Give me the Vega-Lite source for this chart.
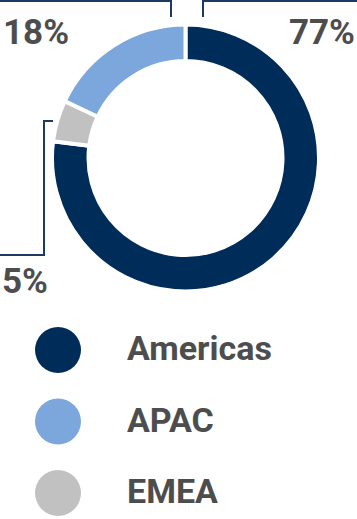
{
  "$schema": "https://vega.github.io/schema/vega-lite/v6.json",
  "width": 357,
  "height": 519,
  "autosize": {"type": "none"},
  "padding": 0,
  "background": "white",
  "config": {"view": {"stroke": null}, "axis": {"disable": true}, "font": "Roboto"},
  "data": {"values": [
    {"region": "Americas", "share": 77},
    {"region": "EMEA", "share": 5},
    {"region": "APAC", "share": 18}
  ]},
  "transform": [{"calculate": "datum.share + '%'", "as": "label"}],
  "layer": [
    {
      "transform": [{"window": [{"op": "row_number", "as": "idx"}]}],
      "mark": {"type": "arc", "outerRadius": 133.5, "innerRadius": 97, "stroke": "white", "strokeWidth": 4},
      "encoding": {
        "x": {"datum": 185.5, "type": "quantitative", "scale": {"domain": [0, 357], "nice": false, "zero": false}},
        "y": {"datum": 158, "type": "quantitative", "scale": {"domain": [0, 519], "reverse": true, "nice": false, "zero": false}},
        "theta": {"field": "share", "type": "quantitative", "stack": true},
        "order": {"field": "idx", "type": "quantitative"},
        "color": {
          "field": "region", "type": "nominal",
          "scale": {"domain": ["Americas", "APAC", "EMEA"], "range": ["#002c5a", "#7ba7dc", "#c1c1c1"]},
          "legend": {
            "orient": "none", "legendX": 35, "legendY": 327, "title": null, "padding": 0,
            "symbolType": "circle", "symbolSize": 2116, "symbolStrokeWidth": 0, "symbolOpacity": 1,
            "labelFont": "Roboto", "labelFontSize": 34, "labelFontWeight": "bold", "labelColor": "#4d4d4d",
            "labelOffset": 46, "rowPadding": 25.5, "labelLimit": 300
          }
        }
      }
    },
    {
      "transform": [{"filter": "datum.region === 'APAC'"}],
      "mark": {"type": "text", "align": "left", "baseline": "alphabetic", "fontSize": 35, "fontWeight": "bold", "color": "#4d4d4d"},
      "encoding": {
        "x": {"datum": 3, "type": "quantitative"},
        "y": {"datum": 44, "type": "quantitative"},
        "text": {"field": "label", "type": "nominal"}
      }
    },
    {
      "transform": [{"filter": "datum.region === 'Americas'"}],
      "mark": {"type": "text", "align": "right", "baseline": "alphabetic", "fontSize": 35, "fontWeight": "bold", "color": "#4d4d4d"},
      "encoding": {
        "x": {"datum": 355, "type": "quantitative"},
        "y": {"datum": 44, "type": "quantitative"},
        "text": {"field": "label", "type": "nominal"}
      }
    },
    {
      "transform": [{"filter": "datum.region === 'EMEA'"}],
      "mark": {"type": "text", "align": "left", "baseline": "alphabetic", "fontSize": 35, "fontWeight": "bold", "color": "#4d4d4d"},
      "encoding": {
        "x": {"datum": 2, "type": "quantitative"},
        "y": {"datum": 293, "type": "quantitative"},
        "text": {"field": "label", "type": "nominal"}
      }
    },
    {"mark": {"type": "rule", "color": "#1c3a64", "strokeWidth": 2},
     "encoding": {"x": {"datum": 0, "type": "quantitative"}, "x2": {"datum": 171}, "y": {"datum": 1, "type": "quantitative"}, "y2": {"datum": 1}}},
    {"mark": {"type": "rule", "color": "#1c3a64", "strokeWidth": 2},
     "encoding": {"x": {"datum": 171, "type": "quantitative"}, "x2": {"datum": 171}, "y": {"datum": 0, "type": "quantitative"}, "y2": {"datum": 17}}},
    {"mark": {"type": "rule", "color": "#1c3a64", "strokeWidth": 2},
     "encoding": {"x": {"datum": 203, "type": "quantitative"}, "x2": {"datum": 357}, "y": {"datum": 1, "type": "quantitative"}, "y2": {"datum": 1}}},
    {"mark": {"type": "rule", "color": "#1c3a64", "strokeWidth": 2},
     "encoding": {"x": {"datum": 203, "type": "quantitative"}, "x2": {"datum": 203}, "y": {"datum": 0, "type": "quantitative"}, "y2": {"datum": 17}}},
    {"mark": {"type": "rule", "color": "#1c3a64", "strokeWidth": 2},
     "encoding": {"x": {"datum": 44, "type": "quantitative"}, "x2": {"datum": 53}, "y": {"datum": 121, "type": "quantitative"}, "y2": {"datum": 121}}},
    {"mark": {"type": "rule", "color": "#1c3a64", "strokeWidth": 2},
     "encoding": {"x": {"datum": 44, "type": "quantitative"}, "x2": {"datum": 44}, "y": {"datum": 120, "type": "quantitative"}, "y2": {"datum": 256}}},
    {"mark": {"type": "rule", "color": "#1c3a64", "strokeWidth": 2},
     "encoding": {"x": {"datum": 0, "type": "quantitative"}, "x2": {"datum": 45}, "y": {"datum": 255, "type": "quantitative"}, "y2": {"datum": 255}}}
  ]
}
